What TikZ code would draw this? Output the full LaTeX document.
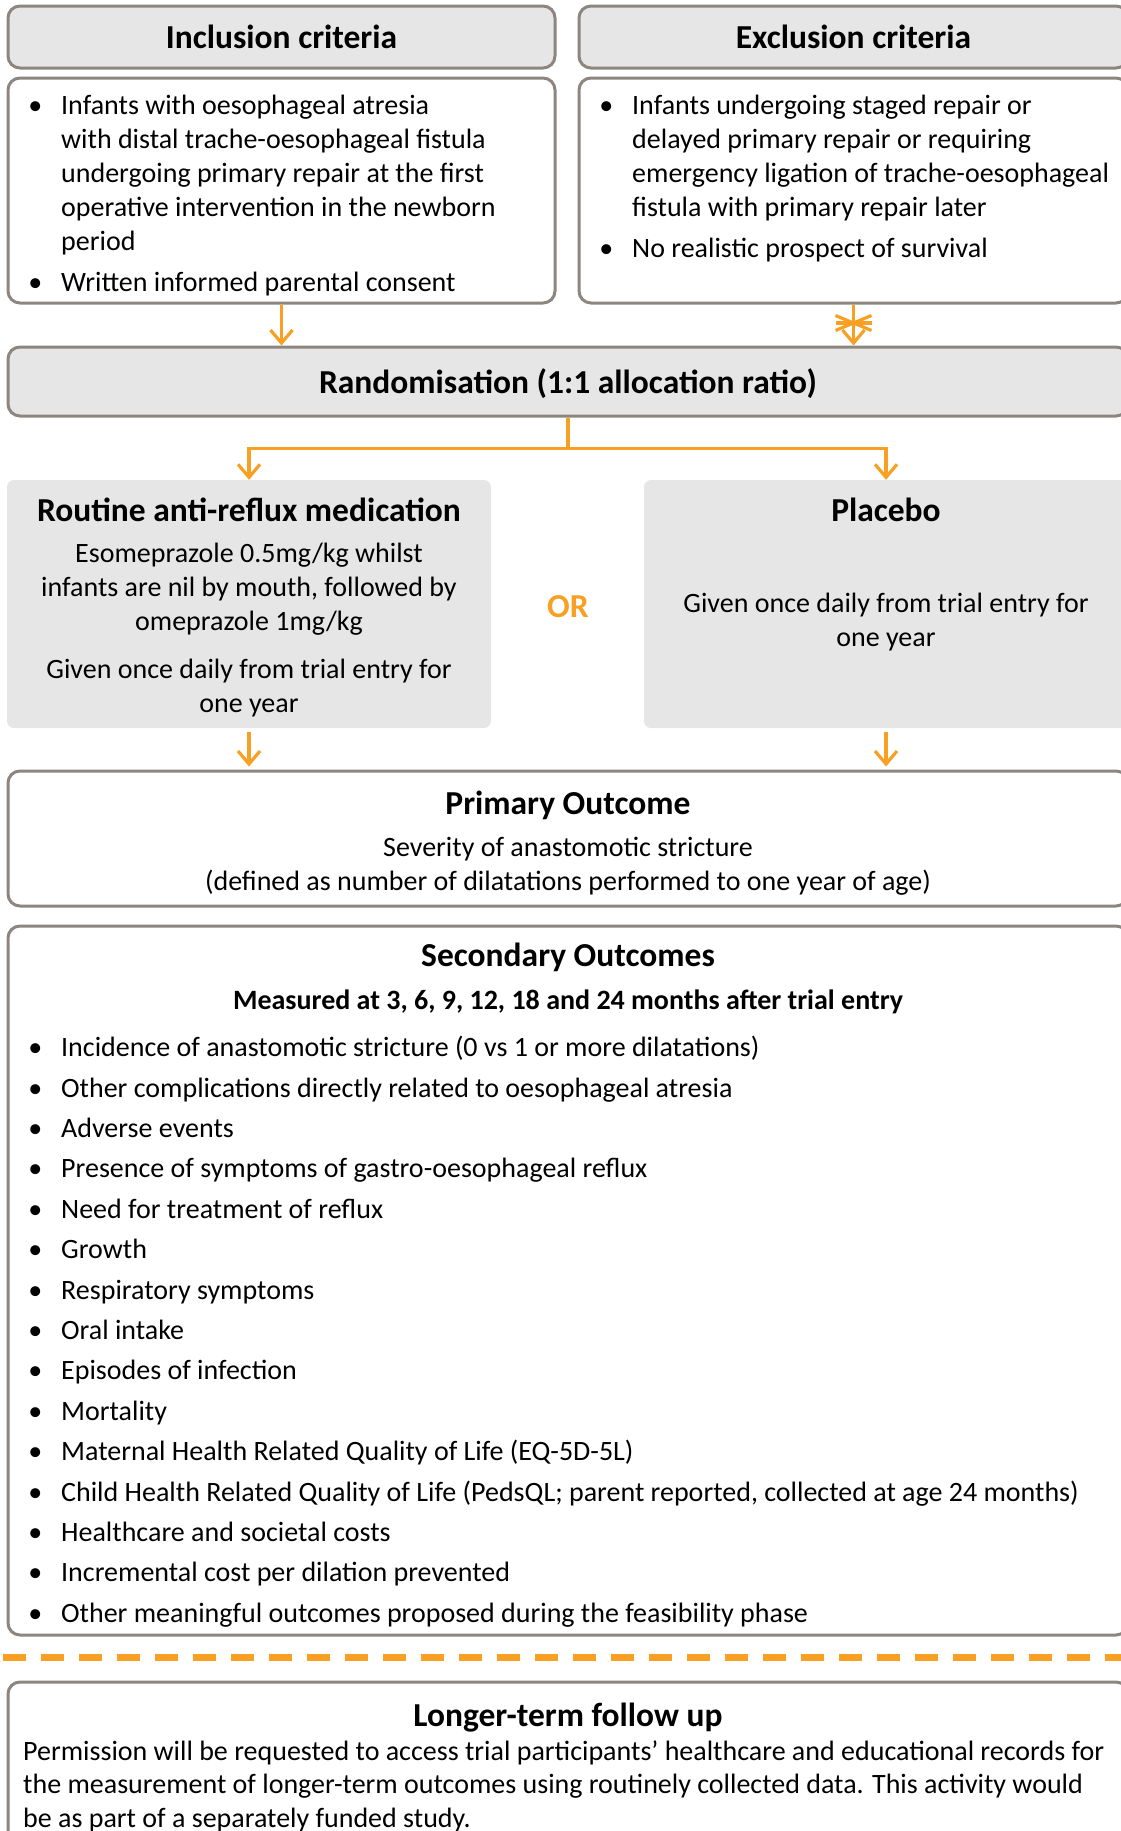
\documentclass[tikz,border=0pt]{standalone}
\usepackage{fontspec}
\setmainfont{Carlito}
\usetikzlibrary{arrows.meta}

\definecolor{boxgray}{RGB}{230,230,230}
\definecolor{edgegray}{RGB}{140,134,127}
\definecolor{floworange}{RGB}{247,160,36}
\newcommand{\itm}{\llap{\textbullet\hspace{19pt}}}

\tikzset{
  hdr/.style={draw=edgegray, line width=3pt, fill=boxgray, rounded corners=12pt,
    font=\fontsize{33.5}{40}\selectfont\bfseries},
  crit/.style={draw=edgegray, line width=3pt, fill=white, rounded corners=12pt},
  arm/.style={fill=boxgray, rounded corners=7pt},
  ttl/.style={font=\fontsize{33.5}{40}\selectfont\bfseries},
  txt/.style={font=\fontsize{28}{34}\selectfont, inner sep=0pt},
  orline/.style={floworange, line width=3.2pt},
  flow/.style={orline, -{Straight Barb[length=13pt,width=22pt]}},
}

\begin{document}
\begin{tikzpicture}[x=1pt,y=-1pt]
  \useasboundingbox (0,0) rectangle (1120,1831);

  % criteria
  \node[hdr, minimum width=547pt, minimum height=62pt] (inchead) at (281.5,37) {Inclusion criteria};
  \node[hdr, minimum width=549pt, minimum height=62pt] (exchead) at (853.5,37) {Exclusion criteria};
  \node[crit, minimum width=547pt, minimum height=225pt] (incbody) at (281.5,190.5) {};
  \node[crit, minimum width=549pt, minimum height=225pt] (excbody) at (853.5,190.5) {};
  \node[txt, align=left, anchor=north west] (inctxt) at (61,94.5) {\itm Infants with oesophageal atresia\\
    with distal trache-oesophageal fistula\\
    undergoing primary repair at the first\\
    operative intervention in the newborn\\
    period\\[7pt]
    \itm Written informed parental consent};
  \node[txt, align=left, anchor=north west] (exctxt) at (632,94.5) {\itm Infants undergoing staged repair or\\
    delayed primary repair or requiring\\
    emergency ligation of trache-oesophageal\\
    fistula with primary repair later\\[7pt]
    \itm No realistic prospect of survival};

  % randomisation
  \node[hdr, text depth=0pt, minimum width=1120pt, minimum height=69pt] (rand) at (568,381.5) {Randomisation (1:1 allocation ratio)};
  \draw[flow] (incbody.south) -- (incbody.south |- rand.north);
  \draw[flow] (excbody.south) -- (excbody.south |- rand.north);
  \coordinate (stop) at (853.5,323);
  \draw[orline] (stop) ++(-18,0) -- ++(36,0);
  \draw[orline] (stop) ++(-18,-7.5) -- ++(36,15);
  \draw[orline] (stop) ++(-18,7.5) -- ++(36,-15);

  % arms
  \node[arm, minimum width=484pt, minimum height=248pt] (routine) at (249,604) {};
  \node[arm, minimum width=484pt, minimum height=248pt] (placebo) at (886,604) {};
  \draw[orline] (rand.south) -- ++(0,31) coordinate (split);
  \draw[flow] (split) -| (routine.north);
  \draw[flow] (split) -| (placebo.north);
  \node[ttl] (routinettl) at (249,510) {Routine anti-reflux medication};
  \node[txt, align=center] (routinetxt) at (249,630.5) {Esomeprazole 0.5mg/kg whilst\\
    infants are nil by mouth, followed by\\
    omeprazole 1mg/kg\\[14pt]
    Given once daily from trial entry for\\
    one year};
  \node[ttl] (placebottl) at (886,510) {Placebo};
  \node[txt, align=center] (placebotxt) at (886,622) {Given once daily from trial entry for\\
    one year};
  \node[ttl, text=floworange] (or) at (568,607) {OR};

  % outcomes
  \node[crit, minimum width=1120pt, minimum height=135pt] (prim) at (568,838.5) {};
  \draw[flow, shorten <=4pt, shorten >=3pt] (routine.south) -- (routine.south |- prim.north);
  \draw[flow, shorten <=4pt, shorten >=3pt] (placebo.south) -- (placebo.south |- prim.north);
  \node[ttl] (primttl) at (568,805.5) {Primary Outcome};
  \node[txt, align=center] (primtxt) at (568,866.5) {Severity of anastomotic stricture\\
    (defined as number of dilatations performed to one year of age)};

  \node[crit, minimum width=1120pt, minimum height=709pt] (sec) at (568,1280.5) {};
  \node[ttl] (secttl) at (568,957.5) {Secondary Outcomes};
  \node[txt, font=\fontsize{28}{34}\selectfont\bfseries] (secsub) at (568,1001.5) {Measured at 3, 6, 9, 12, 18 and 24 months after trial entry};
  \node[txt, font=\fontsize{28}{40.4}\selectfont, align=left, anchor=north west] (sectxt) at (61,1036) {\itm Incidence of anastomotic stricture (0 vs 1 or more dilatations)\\
    \itm Other complications directly related to oesophageal atresia\\
    \itm Adverse events\\
    \itm Presence of symptoms of gastro-oesophageal reflux\\
    \itm Need for treatment of reflux\\
    \itm Growth\\
    \itm Respiratory symptoms\\
    \itm Oral intake\\
    \itm Episodes of infection\\
    \itm Mortality\\
    \itm Maternal Health Related Quality of Life (EQ-5D-5L)\\
    \itm Child Health Related Quality of Life (PedsQL; parent reported, collected at age 24 months)\\
    \itm Healthcare and societal costs\\
    \itm Incremental cost per dilation prevented\\
    \itm Other meaningful outcomes proposed during the feasibility phase};

  % follow up
  \coordinate (dashl) at (3.3,1657.7);
  \coordinate (dashr) at (1125,1657.7);
  \draw[floworange, line width=7.5pt, dash pattern=on 23pt off 15pt] (dashl) -- (dashr);
  \node[crit, minimum width=1120pt, minimum height=168pt] (longer) at (568,1766) {};
  \node[ttl] (longerttl) at (568,1717.5) {Longer-term follow up};
  \node[txt, font=\fontsize{28}{33.5}\selectfont, align=left, anchor=north west] (longertxt) at (23,1740.5) {Permission will be requested to access trial participants’ healthcare and educational records for\\
    the measurement of longer-term outcomes using routinely collected data. This activity would\\
    be as part of a separately funded study.};
\end{tikzpicture}
\end{document}
